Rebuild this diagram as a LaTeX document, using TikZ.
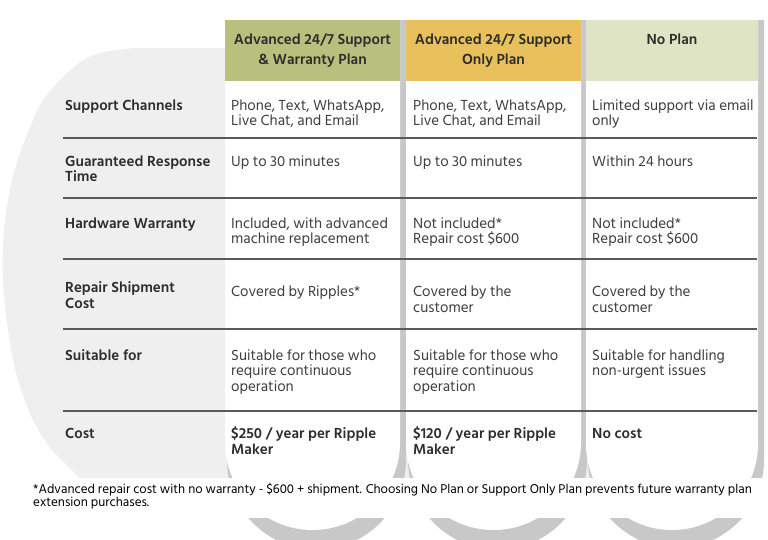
\documentclass[tikz,border=0pt]{standalone}
\usepackage{fontspec}
\setmainfont{Hind Siliguri}
\usetikzlibrary{positioning}

\definecolor{bgshade}{RGB}{239,239,239}
\definecolor{barshade}{RGB}{200,200,200}
\definecolor{headA}{RGB}{183,193,125}
\definecolor{headB}{RGB}{232,192,92}
\definecolor{headC}{RGB}{223,228,196}
\definecolor{ruleline}{RGB}{90,90,90}
\definecolor{labeltext}{RGB}{45,45,45}
\definecolor{celltext}{RGB}{62,62,62}

\begin{document}
\begin{tikzpicture}[x=1pt, y=-1pt,
    rowlabel/.style={anchor=base west, align=left, inner sep=0pt, text=labeltext,
      font=\fontsize{15}{15.6}\selectfont\bfseries},
    cell/.style={anchor=base west, align=left, inner sep=0pt, text=celltext,
      font=\fontsize{15}{15.6}\selectfont},
    costcell/.style={cell, text=labeltext, font=\fontsize{15}{15.6}\selectfont\bfseries},
    head/.style={anchor=base, align=center, inner sep=0pt, text=labeltext,
      font=\fontsize{15}{20.3}\selectfont\bfseries},
    note/.style={anchor=base west, align=left, inner sep=0pt, text=black,
      font=\fontsize{13.1}{13.7}\selectfont},
    rule/.style={ruleline, line width=1.3pt}
  ]

  \useasboundingbox (0,0) rectangle (768,539);

  % multi-line nodes sit on the baseline of their last line
  \fill[bgshade] plot[smooth, tension=0.55] coordinates {(135,48) (100,53) (75,66) (43,100)
    (25,140) (12,180) (4,230) (3,280) (8,330) (18,380) (33,420) (52,450) (80,478)}
    -- (757,478) -- (757,48) -- cycle;

  \foreach \L/\R/\hc in {225/400/headA, 406/581/headB, 586/758/headC} {
    \pgfmathsetmacro{\C}{(\L+\R)/2}
    \pgfmathsetmacro{\h}{(\R-\L)/2}
    \pgfmathsetmacro{\k}{0.5523*\h}
    \pgfmathsetmacro{\yb}{530-\h}
    \pgfmathsetmacro{\SL}{\L+2}
    \pgfmathsetmacro{\SR}{\R+6}
    \pgfmathsetmacro{\SC}{\C+4}
    \pgfmathsetmacro{\sh}{\h+2}
    \pgfmathsetmacro{\sk}{0.5523*\sh}
    \fill[barshade] (\SL,20) -- (\SL,460)
      .. controls (\SL,460+\sk) and (\SC-\sk,460+\sh) .. (\SC,460+\sh)
      .. controls (\SC+\sk,460+\sh) and (\SR,460+\sk) .. (\SR,460) -- (\SR,20) -- cycle;
    \fill[white] (\L,20) -- (\L,\yb)
      .. controls (\L,\yb+\k) and (\C-\k,530) .. (\C,530)
      .. controls (\C+\k,530) and (\R,\yb+\k) .. (\R,\yb) -- (\R,20) -- cycle;
    \fill[\hc] (\L,20) rectangle (\R,81);
  }

  \fill[white] (0,478) rectangle (768,518);

  \foreach \y in {138,198,259,329,411} {
    \draw[rule] (63,\y) -- (757,\y);
  }

  \node[head] (h1) at (312.5,64.3) {Advanced 24/7 Support\\\& Warranty Plan};
  \node[head] (h2) at (493.5,64.3) {Advanced 24/7 Support\\Only Plan};
  \node[head] (h3) at (672,44) {No Plan};

  \node[rowlabel] (l1) at (65,110) {Support Channels};
  \node[rowlabel] (l2) at (65,181.6) {Guaranteed Response\\Time};
  \node[rowlabel] (l3) at (65,228) {Hardware Warranty};
  \node[rowlabel] (l4) at (65,308.1) {Repair Shipment\\Cost};
  \node[rowlabel] (l5) at (65,360) {Suitable for};
  \node[rowlabel] (l6) at (65,438.5) {Cost};

  \node[cell] (c11) at (231,125.6) {Phone, Text, WhatsApp,\\Live Chat, and Email};
  \node[cell] (c12) at (413,125.6) {Phone, Text, WhatsApp,\\Live Chat, and Email};
  \node[cell] (c13) at (592,125.6) {Limited support via email\\only};

  \node[cell] (c21) at (231,166) {Up to 30 minutes};
  \node[cell] (c22) at (413,166) {Up to 30 minutes};
  \node[cell] (c23) at (592,166) {Within 24 hours};

  \node[cell] (c31) at (231,243.6) {Included, with advanced\\machine replacement};
  \node[cell] (c32) at (413,243.6) {Not included*\\Repair cost \$600};
  \node[cell] (c33) at (592,243.6) {Not included*\\Repair cost \$600};

  \node[cell] (c41) at (231,296.5) {Covered by Ripples*};
  \node[cell] (c42) at (413,312.1) {Covered by the\\customer};
  \node[cell] (c43) at (592,312.1) {Covered by the\\customer};

  \node[cell] (c51) at (231,391.2) {Suitable for those who\\require continuous\\operation};
  \node[cell] (c52) at (413,391.2) {Suitable for those who\\require continuous\\operation};
  \node[cell] (c53) at (592,375.6) {Suitable for handling\\non-urgent issues};

  \node[costcell] (c61) at (231,454.1) {\$250 / year per Ripple\\Maker};
  \node[costcell] (c62) at (413,454.1) {\$120 / year per Ripple\\Maker};
  \node[costcell] (c63) at (592,438.5) {No cost};

  \node[note] (fn) at (33,506.7) {*Advanced repair cost with no warranty - \$600 + shipment. Choosing No Plan or Support Only Plan prevents future warranty plan\\extension purchases.};
\end{tikzpicture}
\end{document}
